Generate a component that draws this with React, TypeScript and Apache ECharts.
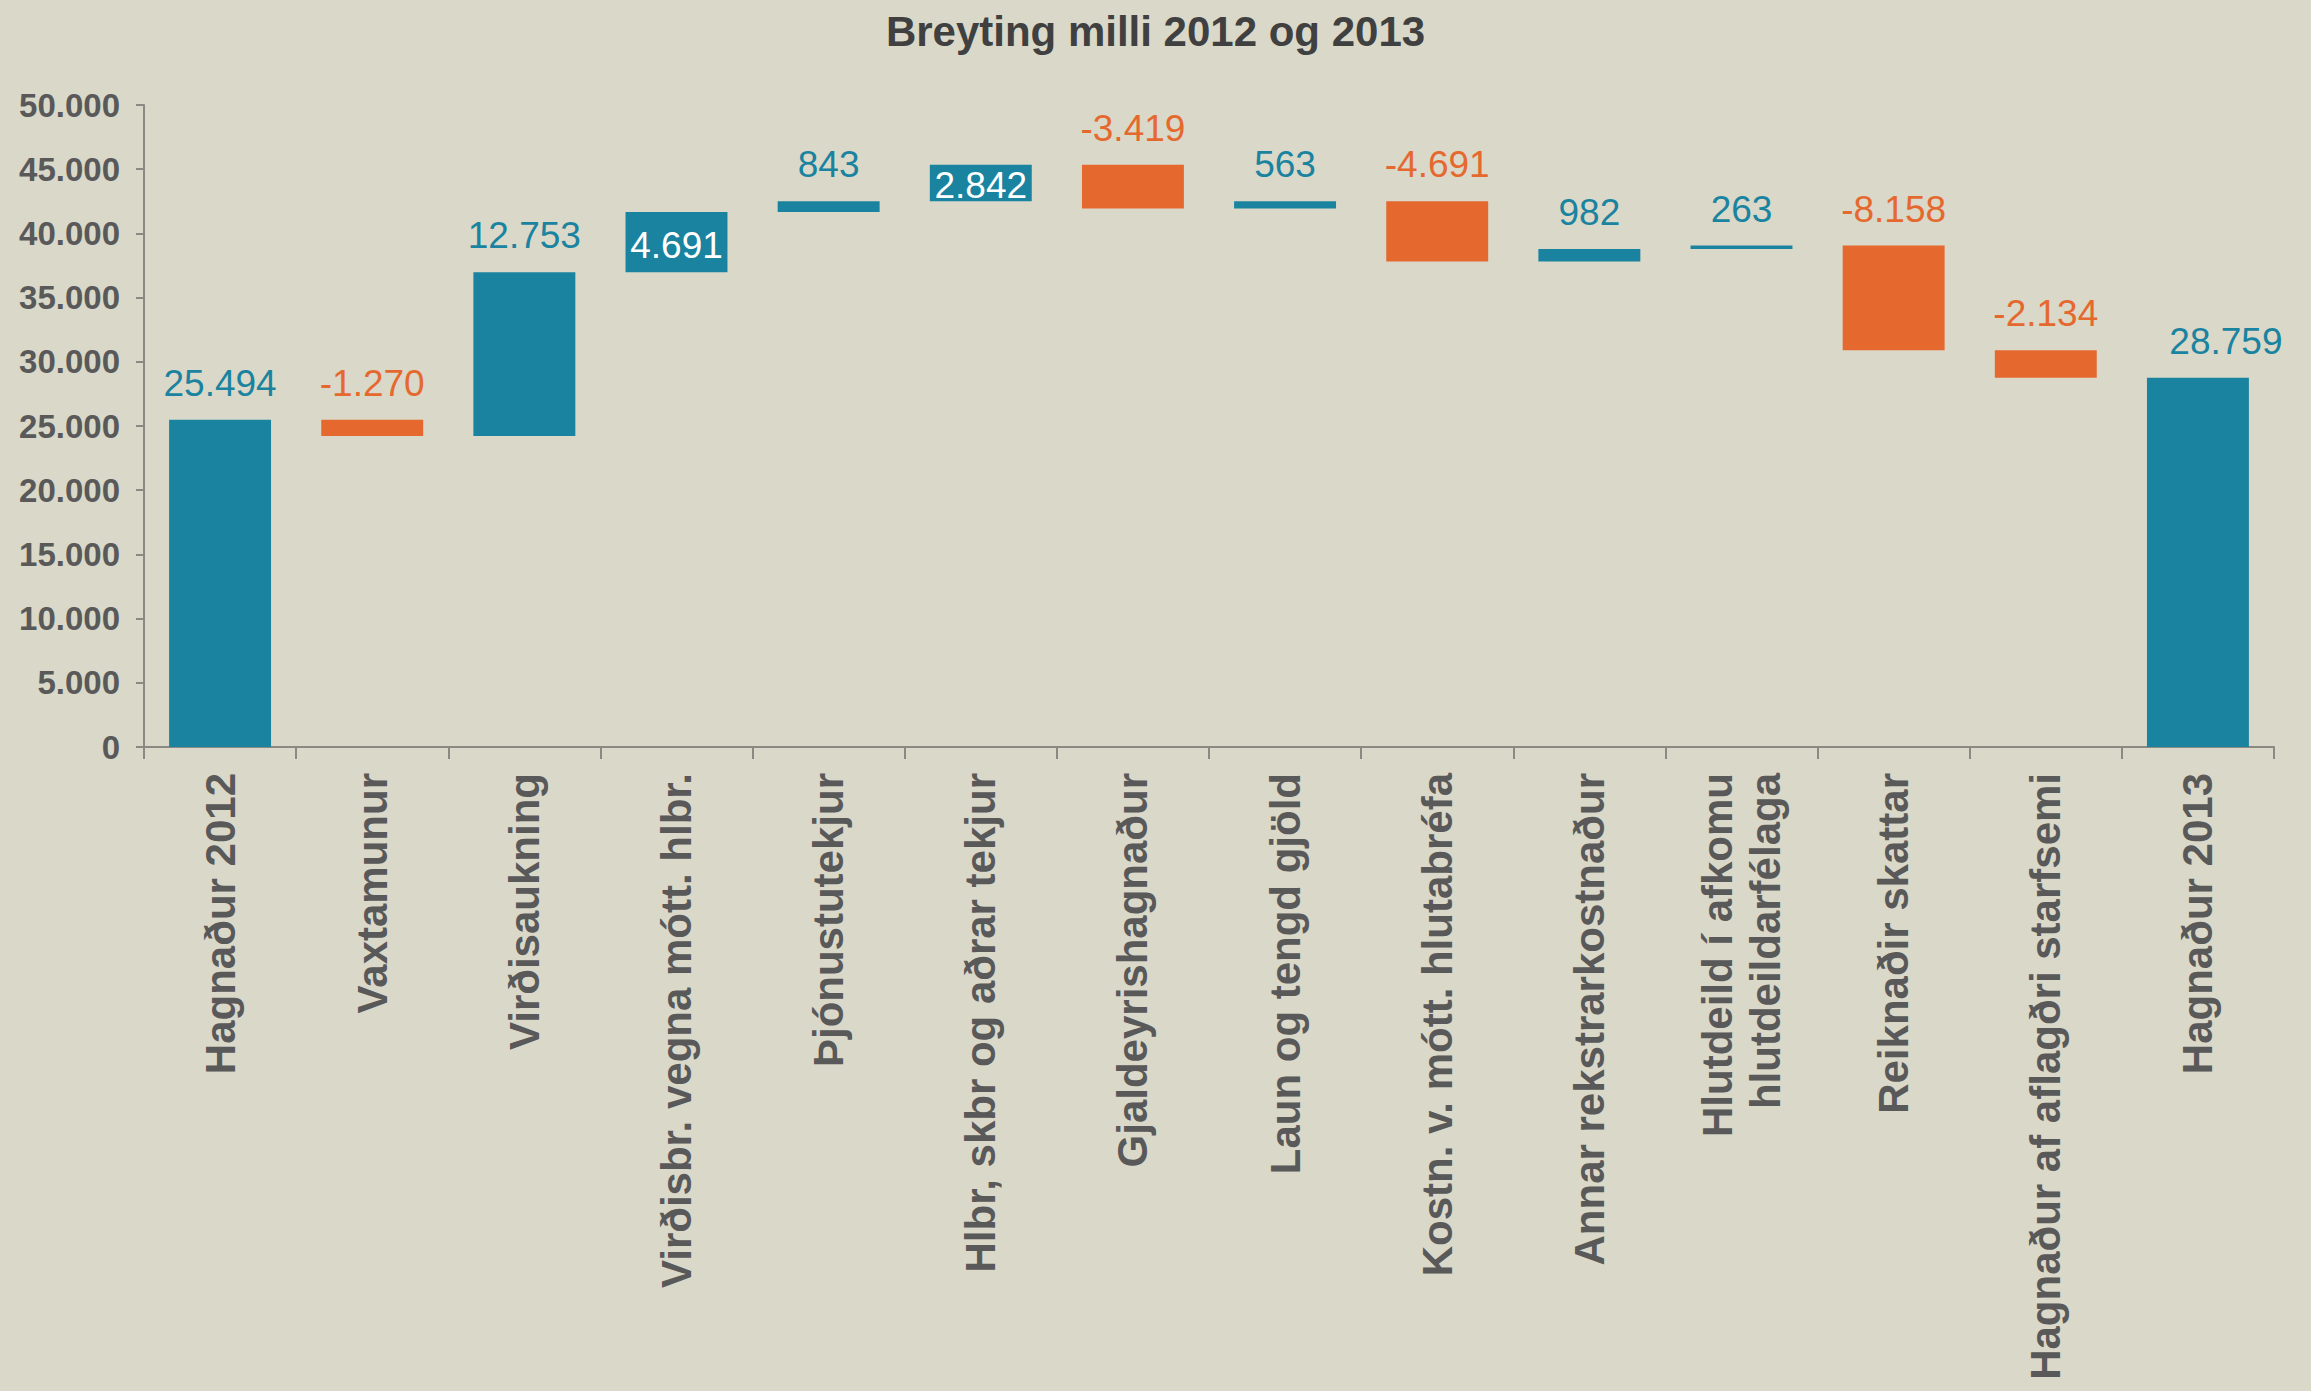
import React, { useEffect, useRef } from "react";
import * as echarts from "echarts";

const categories = [
  "Hagnaður 2012",
  "Vaxtamunur",
  "Virðisaukning",
  "Virðisbr. vegna mótt. hlbr.",
  "Þjónustutekjur",
  "Hlbr, skbr og aðrar tekjur",
  "Gjaldeyrishagnaður",
  "Laun og tengd gjöld",
  "Kostn. v. mótt. hlutabréfa",
  "Annar rekstrarkostnaður",
  "Hlutdeild í afkomu\nhlutdeildarfélaga",
  "Reiknaðir skattar",
  "Hagnaður af aflagðri starfsemi",
  "Hagnaður 2013",
];

const changes = [25494, -1270, 12753, 4691, 843, 2842, -3419, 563, -4691, 982, 263, -8158, -2134, 28759];
const totalCategories = ["Hagnaður 2012", "Hagnaður 2013"];
const insideLabelCategories = ["Virðisbr. vegna mótt. hlbr.", "Hlbr, skbr og aðrar tekjur"];

const Y_MIN = 0;
const Y_MAX = 50000;
const Y_STEP = 5000;

const TEAL = "#1a839f";
const ORANGE = "#e5692e";
const BG = "#dad8c9";
const FONT = "'Liberation Sans', Arial, sans-serif";

const fmt = (n: number) =>
  (n < 0 ? "-" : "") + Math.abs(n).toString().replace(/\B(?=(\d{3})+(?!\d))/g, ".");

export default function App() {
  const ref = useRef<HTMLDivElement>(null);
  useEffect(() => {
    document.body.style.margin = "0";
    if (!ref.current) return;
    const chart = echarts.init(ref.current, null, { renderer: "svg" });

    const base: number[] = [];
    const heights: any[] = [];
    let running = 0;
    categories.forEach((c, i) => {
      const v = changes[i];
      let b = 0;
      let h = 0;
      if (totalCategories.includes(c)) {
        b = 0;
        h = v;
        running = v;
      } else if (v >= 0) {
        b = running;
        h = v;
        running += v;
      } else {
        running += v;
        b = running;
        h = -v;
      }
      base.push(b);
      const color = v >= 0 ? TEAL : ORANGE;
      const inside = insideLabelCategories.includes(c);
      const isLast = i === categories.length - 1;
      heights.push({
        value: h,
        itemStyle: { color },
        label: {
          show: true,
          position: inside ? "inside" : "top",
          distance: 18,
          offset: inside ? [0, 3] : isLast ? [28, 0] : [0, 0],
          color: inside ? "#ffffff" : color,
          fontSize: 37,
          fontFamily: FONT,
          formatter: () => fmt(v),
        },
      });
    });

    chart.setOption({
      animation: false,
      backgroundColor: BG,
      title: {
        text: "Breyting milli 2012 og 2013",
        left: "center",
        top: 5,
        textStyle: { fontSize: 42, fontWeight: "bold", color: "#404040", fontFamily: FONT },
      },
      grid: { left: 144, right: 37, top: 105, bottom: 644, containLabel: false },
      xAxis: {
        type: "category",
        data: categories,
        axisLine: { lineStyle: { color: "#8a8a82", width: 2 } },
        axisTick: { show: true, length: 12, lineStyle: { color: "#8a8a82", width: 2 } },
        axisLabel: {
          interval: 0,
          rotate: 90,
          margin: 26,
          fontSize: 42,
          fontWeight: "bold",
          color: "#595959",
          fontFamily: FONT,
          lineHeight: 48,
        },
      },
      yAxis: {
        type: "value",
        min: Y_MIN,
        max: Y_MAX,
        interval: Y_STEP,
        axisLine: { show: true, lineStyle: { color: "#8a8a82", width: 2 } },
        axisTick: { show: true, length: 8, lineStyle: { color: "#8a8a82", width: 2 } },
        splitLine: { show: false },
        axisLabel: {
          margin: 24,
          fontSize: 33,
          fontWeight: "bold",
          color: "#595959",
          fontFamily: FONT,
          formatter: (v: number) => fmt(v),
        },
      },
      series: [
        {
          type: "bar",
          stack: "w",
          silent: true,
          itemStyle: { color: "transparent" },
          data: base,
          barCategoryGap: "33%",
        },
        {
          type: "bar",
          stack: "w",
          data: heights,
          barCategoryGap: "33%",
        },
      ],
    });
    return () => chart.dispose();
  }, []);
  return <div ref={ref} style={{ width: 2311, height: 1391 }} />;
}
